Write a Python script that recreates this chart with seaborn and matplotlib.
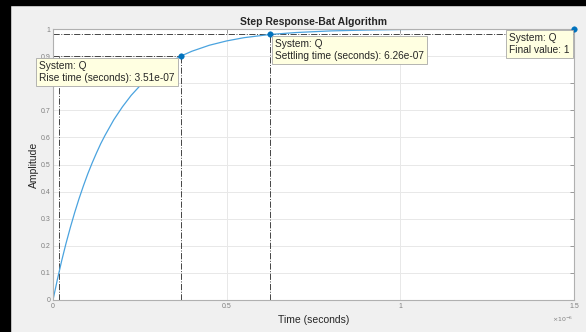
import matplotlib
matplotlib.use('Agg')
import matplotlib.pyplot as plt
import pandas as pd
import seaborn as sns
from matplotlib.patches import Rectangle

# step response (time in units of 1e-7 s)
time_e7 = [0, 0.125, 0.25, 0.375, 0.5, 0.625, 0.75, 0.875, 1.0, 1.125, 1.25, 1.375,
           1.5, 1.75, 2.0, 2.25, 2.5, 2.75, 3.0, 3.25, 3.68, 4.0, 4.5,
           5.0, 5.5, 6.26, 7.0, 8.0, 9.0, 10.0, 11.0, 12.0, 13.0, 15.0]
amplitude = [0, 0.075, 0.145, 0.209, 0.268, 0.323, 0.374, 0.421, 0.465, 0.505, 0.542,
             0.577, 0.608, 0.665, 0.713, 0.755, 0.790, 0.820, 0.847, 0.869, 0.900,
             0.918, 0.940, 0.956, 0.968, 0.980, 0.987, 0.993, 0.996, 0.998,
             0.999, 0.9995, 1.0, 1.0]

# characteristics (marker times as placed in the picture)
t10 = 0.17e-7
rise_t, rise_y = 3.68e-7, 0.9
settle_t, settle_y = 6.26e-7, 0.98
final_t, final_y = 1.5e-6, 1.0

xticks = [0, 0.5e-6, 1e-6, 1.5e-6]
xticklabels = ['0', '0.5', '1', '1.5']
yticks = [0, 0.1, 0.2, 0.3, 0.4, 0.5, 0.6, 0.7, 0.8, 0.9, 1.0]
yticklabels = ['0', '0.1', '0.2', '0.3', '0.4', '0.5', '0.6', '0.7', '0.8', '0.9', '1']

df = pd.DataFrame({'t': [v * 1e-7 for v in time_e7], 'y': amplitude})
pts = pd.DataFrame({'t': [rise_t, settle_t, final_t], 'y': [rise_y, settle_y, final_y]})

sns.set_style('white')
plt.rcParams['font.family'] = ['Liberation Sans', 'DejaVu Sans']

fig = plt.figure(figsize=(5.86, 3.32), dpi=100, facecolor='#f0f0f0')
ax = fig.add_axes([53 / 586, 32 / 332, 521 / 586, 271 / 332])
ax.set_facecolor('white')

# characteristic guide lines
lc = '#444444'
ax.plot([0, rise_t], [rise_y, rise_y], ls='-.', lw=0.7, color=lc)
ax.plot([t10, t10], [0, rise_y], ls='-.', lw=0.7, color=lc)
ax.plot([rise_t, rise_t], [0, rise_y], ls='-.', lw=0.7, color=lc)
ax.plot([0, final_t], [settle_y, settle_y], ls='-.', lw=0.7, color=lc)
ax.plot([settle_t, settle_t], [0, settle_y], ls='-.', lw=0.7, color=lc)

sns.lineplot(data=df, x='t', y='y', ax=ax, color='#4aa3df', lw=0.9, sort=False)
sns.scatterplot(data=pts, x='t', y='y', ax=ax, color='#0072bd', s=16,
                edgecolor='#0072bd', zorder=5, clip_on=False)

ax.set_xlim(0, 1.5e-6)
ax.set_ylim(0, 1)
ax.set_xticks(xticks)
ax.set_xticklabels(xticklabels)
ax.set_yticks(yticks)
ax.set_yticklabels(yticklabels)
ax.grid(True, color='#e8e8e8', lw=0.7)
ax.tick_params(direction='in', length=3, width=0.6, color='#8c8c8c',
               labelsize=5, labelcolor='#808080', top=True, right=True, pad=2)
for s in ax.spines.values():
    s.set_color('#b0b0b0')
    s.set_linewidth(0.8)

ax.set_title('Step Response-Bat Algorithm', fontsize=7.5, fontweight='bold', pad=3)
ax.set_xlabel('Time (seconds)', fontsize=7.5, labelpad=4)
ax.set_ylabel('Amplitude', fontsize=7.5, labelpad=1)
ax.text(0.998, -0.055, r'$\times10^{-6}$', transform=ax.transAxes, ha='right', va='top',
        fontsize=4.5, color='#808080')

# data tips
box = dict(boxstyle='square,pad=0.3', facecolor='#ffffe1', edgecolor='#a8a8a8', lw=0.6)
fig.text(39 / 586, 1 - 61 / 332, 'System: Q\nRise time (seconds): 3.51e-07',
         ha='left', va='top', fontsize=7.3, bbox=box, linespacing=1.3)
fig.text(275 / 586, 1 - 39 / 332, 'System: Q\nSettling time (seconds): 6.26e-07',
         ha='left', va='top', fontsize=7.3, bbox=box, linespacing=1.3)
fig.text(509 / 586, 1 - 33 / 332, 'System: Q\nFinal value: 1',
         ha='left', va='top', fontsize=7.3, bbox=box, linespacing=1.3)

# black frame on left and top edges
fig.patches.append(Rectangle((0, 0), 10 / 586, 1, transform=fig.transFigure,
                             color='black', zorder=10))
fig.patches.append(Rectangle((0, 1 - 5 / 332), 1, 5 / 332, transform=fig.transFigure,
                             color='black', zorder=10))

fig.savefig('out.png', dpi=100, facecolor=fig.get_facecolor())
